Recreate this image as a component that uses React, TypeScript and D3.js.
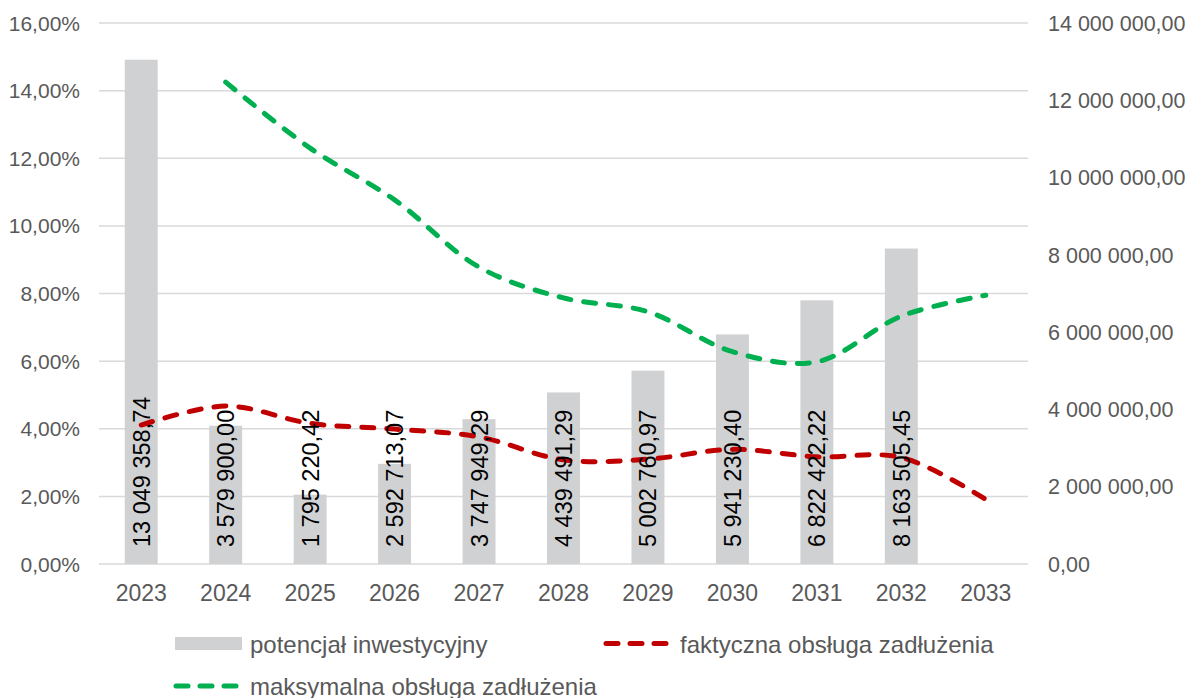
import React from "react";
import * as d3 from "d3";

const years = ["2023", "2024", "2025", "2026", "2027", "2028", "2029", "2030", "2031", "2032", "2033"];
const potencjal = [13049358.74, 3579900.0, 1795220.42, 2592713.07, 3747949.29, 4439491.29, 5002760.97, 5941230.4, 6822422.22, 8163505.45, null];
const potencjalLabels = ["13 049 358,74", "3 579 900,00", "1 795 220,42", "2 592 713,07", "3 747 949,29", "4 439 491,29", "5 002 760,97", "5 941 230,40", "6 822 422,22", "8 163 505,45", ""];
const faktyczna = [4.11, 4.67, 4.16, 3.99, 3.76, 3.08, 3.1, 3.39, 3.17, 3.15, 1.91];
const maksymalna = [null, 14.25, 12.3, 10.77, 8.78, 7.87, 7.46, 6.28, 5.98, 7.33, 7.95];
const leftTicks = [0, 2, 4, 6, 8, 10, 12, 14, 16];
const rightTicks = [0, 2e6, 4e6, 6e6, 8e6, 10e6, 12e6, 14e6];

const W = 1190;
const H = 698;
const plot = { left: 99, right: 1028, top: 23, bottom: 564 };
const font = "'Liberation Sans', Arial, sans-serif";
const axisColor = "#595959";
const green = "#00B050";
const red = "#C00000";
const barColor = "#D0D1D3";

const fmtPct = (v: number) => v.toFixed(2).replace(".", ",") + "%";
const fmtNum = (v: number) => {
  const [i, d] = v.toFixed(2).split(".");
  return i.replace(/\B(?=(\d{3})+(?!\d))/g, " ") + "," + d;
};

export default function App() {
  const x = d3.scaleBand<string>().domain(years).range([plot.left, plot.right]).paddingInner(0.61).paddingOuter(0.305);
  const yL = d3.scaleLinear().domain([0, 16]).range([plot.bottom, plot.top]);
  const yR = d3.scaleLinear().domain([0, 14e6]).range([plot.bottom, plot.top]);
  const cx = (i: number) => (x(years[i]) as number) + x.bandwidth() / 2;

  const line = d3
    .line<number | null>()
    .defined((d) => d != null)
    .x((_, i) => cx(i))
    .y((d) => yL(d as number))
    .curve(d3.curveCatmullRom.alpha(0.5));

  const dash = { strokeWidth: 5, strokeDasharray: "12 13", strokeLinecap: "round" as const, fill: "none" };

  return (
    <svg width={W} height={H} style={{ position: "absolute", left: 0, top: 0, background: "#fff" }} fontFamily={font}>
      {/* gridlines */}
      {leftTicks.map((t) => (
        <line key={t} x1={plot.left} x2={plot.right} y1={yL(t)} y2={yL(t)} stroke="#D9D9D9" strokeWidth={1.5} />
      ))}
      {/* left axis labels */}
      {leftTicks.map((t) => (
        <text key={t} x={80} y={yL(t)} dy="0.36em" textAnchor="end" fontSize={21} fill={axisColor}>
          {fmtPct(t)}
        </text>
      ))}
      {/* right axis labels */}
      {rightTicks.map((t) => (
        <text key={t} x={1048} y={yR(t)} dy="0.36em" textAnchor="start" fontSize={21.5} fill={axisColor}>
          {fmtNum(t)}
        </text>
      ))}
      {/* x labels */}
      {years.map((yr, i) => (
        <text key={yr} x={cx(i)} y={601} textAnchor="middle" fontSize={23} fill={axisColor}>
          {yr}
        </text>
      ))}
      {/* bars */}
      {potencjal.map((v, i) =>
        v == null ? null : (
          <rect key={i} x={x(years[i])} width={x.bandwidth()} y={yR(v)} height={plot.bottom - yR(v)} fill={barColor} />
        )
      )}
      {/* lines */}
      <path d={line(maksymalna) || ""} stroke={green} {...dash} />
      <path d={line(faktyczna) || ""} stroke={red} {...dash} />
      {/* bar labels */}
      {potencjal.map((v, i) =>
        v == null ? null : (
          <text key={i} transform={`translate(${cx(i) + 8.5},547) rotate(-90)`} fontSize={23.5} fill="#000">
            {potencjalLabels[i]}
          </text>
        )
      )}
      {/* legend */}
      <g fontSize={24} fill={axisColor}>
        <rect x={175} y={637} width={67} height={13} fill={barColor} />
        <text x={250} y={653}>potencjał inwestycyjny</text>
        <line x1={606} x2={666} y1={643.5} y2={643.5} stroke={red} {...dash} strokeDasharray="12 12" />
        <text x={680} y={653}>faktyczna obsługa zadłużenia</text>
        <line x1={176} x2={236} y1={686} y2={686} stroke={green} {...dash} strokeDasharray="12 12" />
        <text x={250} y={695}>maksymalna obsługa zadłużenia</text>
      </g>
    </svg>
  );
}
